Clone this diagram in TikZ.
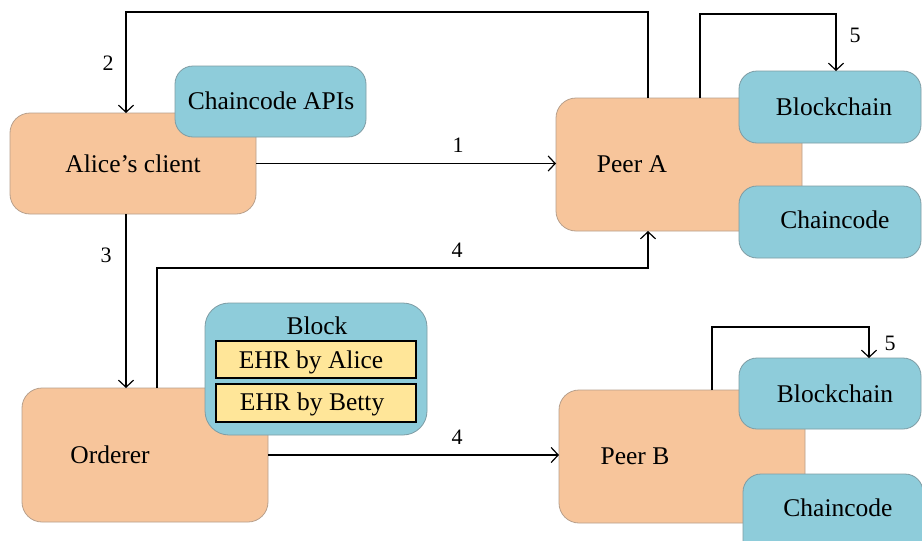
\documentclass[tikz,border=0pt]{standalone}
\usepackage{fontspec}
\setmainfont{Liberation Serif}
\usetikzlibrary{arrows.meta}
\definecolor{orangefill}{HTML}{F7C59B}
\definecolor{orangeline}{HTML}{B8A08C}
\definecolor{bluefill}{HTML}{8ECCDA}
\definecolor{blueline}{HTML}{7E9CA4}
\definecolor{yellowfill}{HTML}{FFE699}
\begin{document}
\begin{tikzpicture}[x=1pt,y=-1pt,
  basebox/.style={rectangle, inner sep=0pt, outer sep=0pt, anchor=north west},
  peerbox/.style={basebox, draw=orangeline, fill=orangefill, line width=0.8pt, rounded corners=20pt},
  bluebox/.style={basebox, draw=blueline, fill=bluefill, line width=0.8pt, rounded corners=18pt},
  ehrbox/.style={basebox, draw=black, fill=yellowfill, line width=1.6pt},
  txt/.style={inner sep=0pt, font=\fontsize{25.5}{30}\selectfont},
  num/.style={inner sep=0pt, font=\fontsize{22}{26}\selectfont},
  arr/.style={line width=1.2pt, -{Straight Barb[length=7pt,width=15pt,line width=1.2pt]}}
]
\clip (0,0) rectangle (922,541);
\fill[white] (0,0) rectangle (922,541);

% orange boxes
\node[peerbox, minimum width=246pt, minimum height=101pt] (alice) at (10,113) {};
\node[peerbox, minimum width=246pt, minimum height=133pt] (peerA) at (556,98) {};
\node[peerbox, minimum width=246pt, minimum height=134pt] (orderer) at (22,388) {};
\node[peerbox, minimum width=246pt, minimum height=133pt] (peerB) at (559,390) {};

% blue boxes
\node[bluebox, minimum width=191pt, minimum height=71pt] (apis) at (175,66) {};
\node[bluebox, minimum width=182pt, minimum height=72pt] (bcA) at (739,71) {};
\node[bluebox, minimum width=182pt, minimum height=72pt] (ccA) at (739,186) {};
\node[bluebox, minimum width=182pt, minimum height=71pt] (bcB) at (739,358) {};
\node[bluebox, minimum width=180pt, minimum height=90pt] (ccB) at (743,474) {};
\node[bluebox, rounded corners=24pt, minimum width=222pt, minimum height=132pt] (block) at (205,303) {};
\node[ehrbox, minimum width=200pt, minimum height=37pt] (ehrA) at (216,341) {};
\node[ehrbox, minimum width=200pt, minimum height=38pt] (ehrB) at (216,384) {};

% texts
\node[txt] at (133,164) {Alice’s client};
\node[txt] at (632,164) {Peer A};
\node[txt] at (110,455) {Orderer};
\node[txt] at (635,456) {Peer B};
\node[txt] at (271,101) {Chaincode APIs};
\node[txt] at (834,107) {Blockchain};
\node[txt] at (835,220) {Chaincode};
\node[txt] at (835,394) {Blockchain};
\node[txt] at (838,508) {Chaincode};
\node[txt] at (317,326) {Block};
\node[txt] at (311,362) {EHR by Alice};
\node[txt] at (312,404) {EHR by Betty};

% connector coordinates
\coordinate (c2r) at (648,12);
\coordinate (c2l) at (126,12);
\coordinate (c4) at (157,268);
\coordinate (c5a) at (700,14);
\coordinate (c5b) at (836,14);
\coordinate (c6a) at (712,327);
\coordinate (c6b) at (869,327);

% connectors
\draw[arr] (alice.east) -- (alice.east -| peerA.west);
\draw[arr] (peerA.north -| c2r) -- (c2r) -- (c2l) -- (alice.north -| c2l);
\draw[arr] (alice.south -| c2l) -- (orderer.north -| c2l);
\draw[arr] (orderer.north -| c4) -- (c4) -| (peerA.south -| c2r);
\draw[arr] (orderer.east) -- (orderer.east -| peerB.west);
\draw[arr] (peerA.north -| c5a) -- (c5a) -- (c5b) -- (bcA.north -| c5b);
\draw[arr] (peerB.north -| c6a) -- (c6a) -- (c6b) -- (bcB.north -| c6b);

% numbers
\node[num] at (458,145) {1};
\node[num] at (108,63) {2};
\node[num] at (106,255) {3};
\node[num] at (457,250) {4};
\node[num] at (457,437) {4};
\node[num] at (855,35) {5};
\node[num] at (890,343) {5};
\end{tikzpicture}
\end{document}
